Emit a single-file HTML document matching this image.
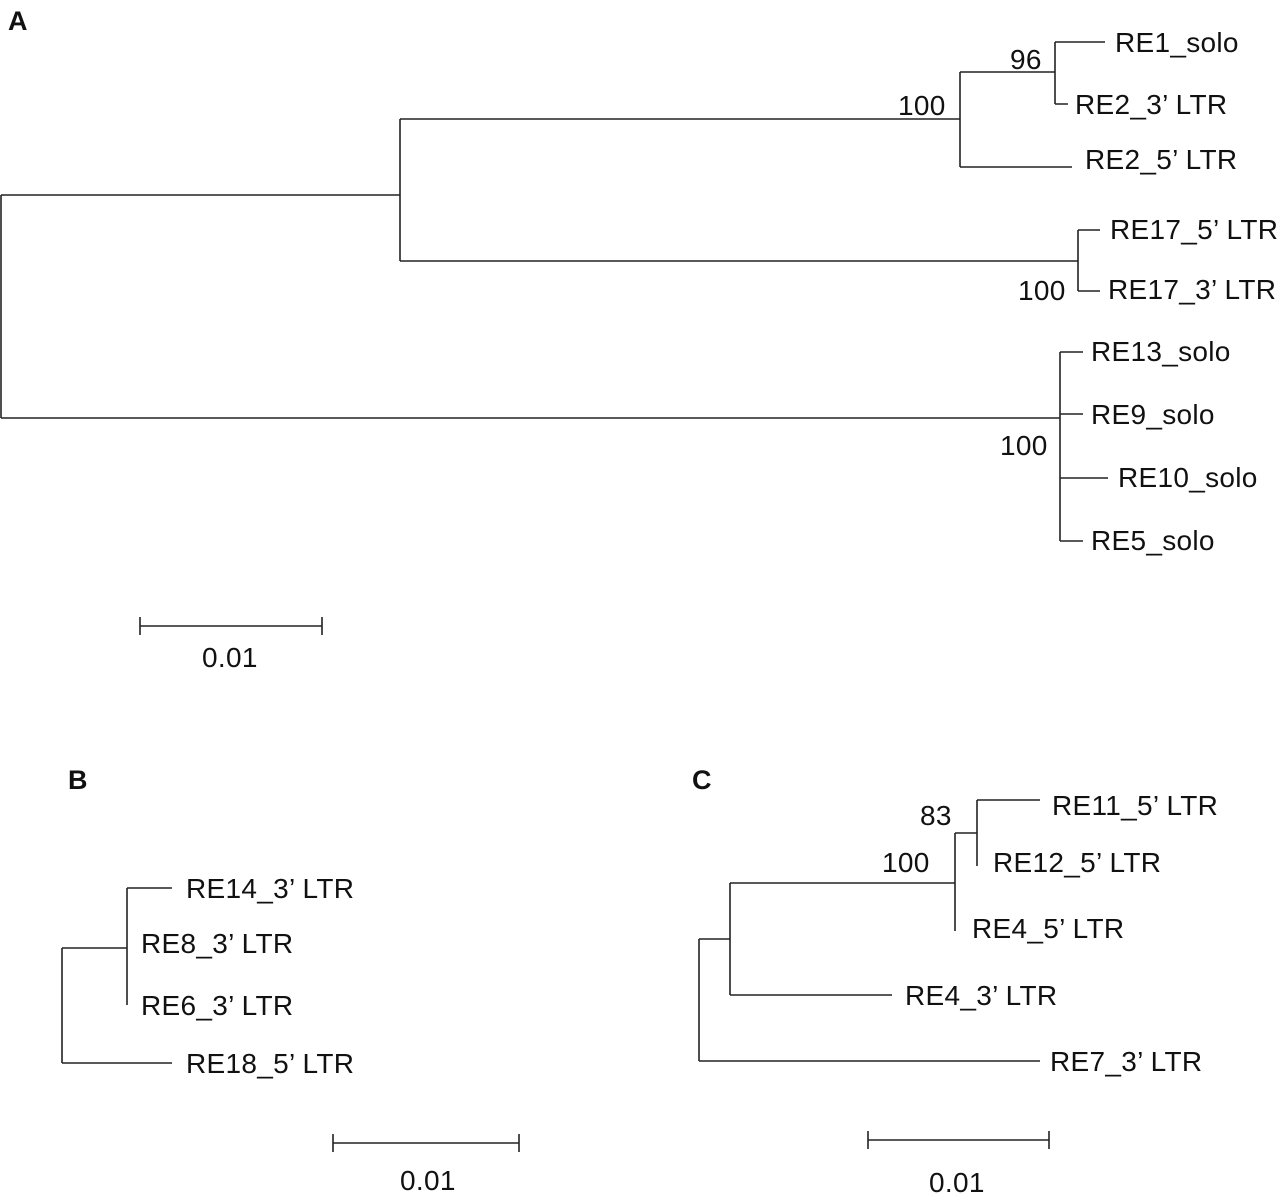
<!DOCTYPE html>
<html><head><style>
body{margin:0;background:#fff;}
svg text{font-family:"Liberation Sans",Arial,sans-serif;font-size:28px;letter-spacing:0.3px;fill:#111;}
.b{font-weight:bold;font-size:27px;letter-spacing:0;}
</style></head><body>
<svg width="1280" height="1193" viewBox="0 0 1280 1193" xmlns="http://www.w3.org/2000/svg">
<g stroke="#222" stroke-width="1.6" fill="none">
<!-- A -->
<path d="M1,195V418M1,195H400M400,119V261M400,119H960M960,72V167M960,72H1055M1055,42V104M1055,42H1105M1055,104H1068M960,167H1072M400,261H1078M1078,230V291M1078,230H1100M1078,291H1100M1,418H1060M1060,352V541M1060,352H1083M1060,414H1083M1060,478H1108M1060,541H1083"/>
<path d="M140,626H322M140,617V635M322,617V635"/>
<!-- B -->
<path d="M62,948V1063M62,948H127M127,888V1005M127,888H172M62,1063H172"/>
<path d="M333,1143H519M333,1134V1152M519,1134V1152"/>
<!-- C -->
<path d="M699,939V1061M699,939H730M730,883V995M730,883H955M955,833V931M955,833H977M977,800V866M977,800H1040M730,995H892M699,1061H1040"/>
<path d="M868,1140H1049M868,1131V1149M1049,1131V1149"/>
</g>
<text class="b" x="8" y="30">A</text>
<text x="1115" y="52">RE1_solo</text>
<text x="1075" y="114">RE2_3’ LTR</text>
<text x="1085" y="169">RE2_5’ LTR</text>
<text x="1110" y="239">RE17_5’ LTR</text>
<text x="1108" y="299">RE17_3’ LTR</text>
<text x="1091" y="361">RE13_solo</text>
<text x="1091" y="424">RE9_solo</text>
<text x="1118" y="487">RE10_solo</text>
<text x="1091" y="550">RE5_solo</text>
<text x="898" y="115">100</text>
<text x="1010" y="69">96</text>
<text x="1018" y="300">100</text>
<text x="1000" y="455">100</text>
<text x="202" y="667">0.01</text>
<text class="b" x="68" y="789">B</text>
<text x="186" y="898">RE14_3’ LTR</text>
<text x="141" y="953">RE8_3’ LTR</text>
<text x="141" y="1015">RE6_3’ LTR</text>
<text x="186" y="1073">RE18_5’ LTR</text>
<text x="400" y="1190">0.01</text>
<text class="b" x="692" y="789">C</text>
<text x="1052" y="815">RE11_5’ LTR</text>
<text x="993" y="872">RE12_5’ LTR</text>
<text x="972" y="938">RE4_5’ LTR</text>
<text x="905" y="1005">RE4_3’ LTR</text>
<text x="1050" y="1071">RE7_3’ LTR</text>
<text x="920" y="825">83</text>
<text x="882" y="872">100</text>
<text x="929" y="1192">0.01</text>
</svg>
</body></html>
